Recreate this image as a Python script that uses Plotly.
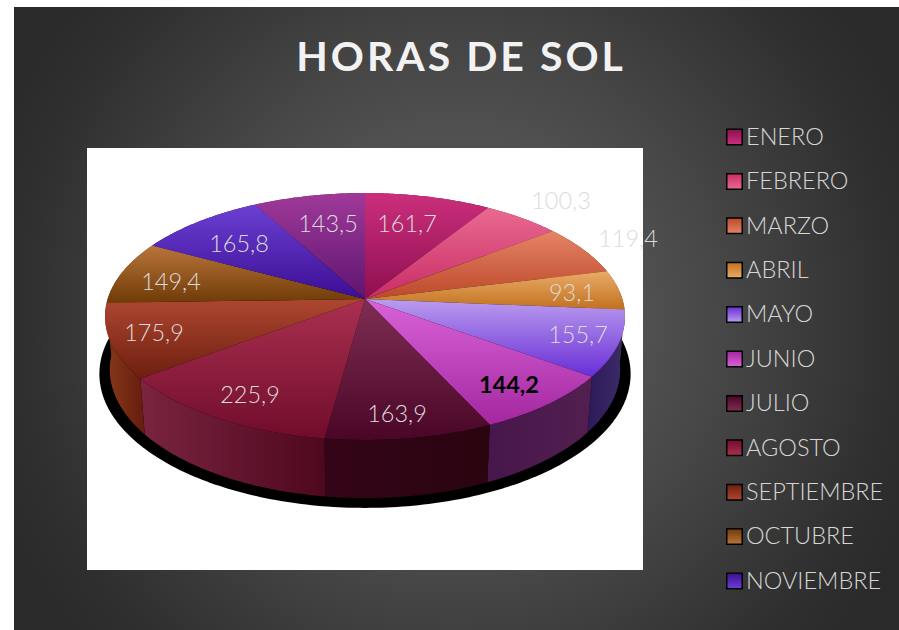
import numpy as np
import plotly.graph_objects as go

MONTHS = ["ENERO", "FEBRERO", "MARZO", "ABRIL", "MAYO", "JUNIO", "JULIO",
          "AGOSTO", "SEPTIEMBRE", "OCTUBRE", "NOVIEMBRE", "DICIEMBRE"]
HOURS = [161.7, 100.3, 119.4, 93.1, 155.7, 144.2, 163.9, 225.9, 175.9, 149.4, 165.8, 143.5]

# the legend of the original stops at NOVIEMBRE
LEGEND_MONTHS = MONTHS[:11]

TOP_LIGHT = ["#cb2f7c", "#e96a90", "#e58466", "#e9ab68", "#bb9cef", "#da63d9",
             "#7f2e53", "#aa3050", "#ae4631", "#b9753a", "#6b40d2", "#9f3999"]
TOP_DARK = ["#8e0e50", "#c92c66", "#bd482a", "#c2701e", "#682dd6", "#a3279f",
            "#4a0627", "#710c2b", "#6e1f0f", "#6f3b08", "#3c0e95", "#5e1570"]
SIDE_LEFT = ["#6e0b3e", "#8e1d4b", "#88331d", "#8a5015", "#2c1a58", "#47164a",
             "#340518", "#7a2440", "#8a3a1a", "#70380a", "#2f0b70", "#5a1258"]
SIDE_RIGHT = ["#5a0930", "#6e163a", "#6a2716", "#6a3d10", "#3c2c68", "#521f50",
              "#2a040f", "#4e081e", "#641c0e", "#5a2d08", "#250858", "#470e45"]

LABEL_COLORS = ["#dcdcdc"] * 12
LABEL_COLORS[5] = "#000000"
# label anchors in page pixels, same order as MONTHS
LABEL_X = [407, 561, 628, 572, 578, 509, 397, 250, 154, 171, 239, 328]
LABEL_Y = [226, 203, 241, 295, 337, 387, 416, 397, 335, 284, 246, 226]

W, H = 899, 630
PANEL_LEFT, PANEL_TOP = 14, 7
GLOW_X, GLOW_Y, GLOW_R = 456, 318, 500
APEX_X, APEX_Y = 365, 299
F_X, F_Y, DEPTH = 1817, 854, 7.06
BOTTOM_DEPTH, BOTTOM_DROP = 0.13, 378
FONT = "Lato"


def project(angle_deg, radius=1.0, bottom=False):
    """Angulo de pastel (0 arriba, sentido horario) a pixeles de pantalla."""
    t = np.radians(angle_deg)
    x3, z3 = radius * np.sin(t), radius * np.cos(t)
    d = DEPTH + z3 + (BOTTOM_DEPTH if bottom else 0)
    drop = BOTTOM_DROP if bottom else 0
    return APEX_X + F_X * x3 / d, APEX_Y + (drop - F_Y * z3) / d


def poly(fig, x, y, color=None, gradient=None):
    trace = dict(x=x, y=y, mode="none", fill="toself", hoverinfo="skip")
    if gradient:
        trace["fillgradient"] = gradient
    else:
        trace["fillcolor"] = color
    fig.add_trace(go.Scatter(**trace))


def ramp(kind, c0, c1):
    return dict(type=kind, colorscale=[[0, c0], [1, c1]])


edges = np.concatenate([[0], np.cumsum(HOURS)]) / sum(HOURS) * 360

fig = go.Figure()

# panel: square larger than the axes, so the glow is round and the axes clip it
poly(fig,
     [GLOW_X - GLOW_R, GLOW_X + GLOW_R, GLOW_X + GLOW_R, GLOW_X - GLOW_R],
     [GLOW_Y - GLOW_R, GLOW_Y - GLOW_R, GLOW_Y + GLOW_R, GLOW_Y + GLOW_R],
     gradient=dict(type="radial", colorscale=[[0, "#585858"], [0.38, "#505050"], [0.54, "#464646"],
                                              [0.7, "#3b3b3b"], [0.88, "#2f2f2f"], [1, "#2a2a2a"]]))
poly(fig, [87, 643, 643, 87], [148, 148, 570, 570], color="#ffffff")

# shadow under the pie
ang = np.linspace(0, 360, 361)
sx, sy = project(ang, 1.04, bottom=True)
poly(fig, sx, sy + 3, color="#000000")

# side wall
for i in range(12):
    a = np.linspace(edges[i], edges[i + 1], 60)
    x0, y0 = project(a)
    x1, y1 = project(a[::-1], bottom=True)
    poly(fig, np.r_[x0, x1], np.r_[y0, y1],
         gradient=ramp("horizontal", SIDE_LEFT[i], SIDE_RIGHT[i]))

# top face, the y axis runs downwards so the ramp starts with the dark colour
for i in range(12):
    a = np.linspace(edges[i], edges[i + 1], 60)
    x0, y0 = project(a)
    poly(fig, np.r_[APEX_X, x0], np.r_[APEX_Y, y0],
         gradient=ramp("vertical", TOP_DARK[i], TOP_LIGHT[i]))

labels = [f"{v:.1f}".replace(".", ",") for v in HOURS]
labels[5] = f"<b>{labels[5]}</b>"
fig.add_trace(go.Scatter(
    x=LABEL_X, y=LABEL_Y, text=labels, mode="text", hoverinfo="skip",
    textposition="middle center",
    textfont=dict(family=FONT, size=23.5, color=LABEL_COLORS, weight=300),
))

# legend
for i, name in enumerate(LEGEND_MONTHS):
    y_pos = 137 + i * 44.4
    fig.add_trace(go.Scatter(
        x=[734.5], y=[y_pos], mode="markers", hoverinfo="skip",
        marker=dict(symbol="square", size=15.5, color=TOP_DARK[i],
                    gradient=dict(type="vertical", color=TOP_LIGHT[i]),
                    line=dict(color="#000000", width=1.5)),
    ))
fig.add_trace(go.Scatter(
    x=[746] * len(LEGEND_MONTHS), y=[139 + i * 44.4 for i in range(len(LEGEND_MONTHS))],
    text=LEGEND_MONTHS, mode="text", textposition="middle right", hoverinfo="skip",
    textfont=dict(family=FONT, size=23.5, color="#d6d6d6", weight=300),
))

fig.update_layout(
    width=W, height=H, showlegend=False,
    paper_bgcolor="#ffffff", plot_bgcolor="#ffffff",
    margin=dict(t=0, l=0, r=0, b=0),
    xaxis=dict(range=[PANEL_LEFT, W], domain=[PANEL_LEFT / W, 1], visible=False, fixedrange=True),
    yaxis=dict(range=[H, PANEL_TOP], domain=[0, 1 - PANEL_TOP / H], visible=False, fixedrange=True),
    title=dict(text="HORAS DE SOL", x=461 / W, y=1 - 57 / H, xanchor="center", yanchor="middle",
               font=dict(family=FONT, size=41, color="#f2f2f2", weight=700)),
)

fig.write_html(
    "out.html",
    config=dict(displayModeBar=False),
    post_script="document.body.style.margin='0';"
                "document.querySelector('.gtitle').style.letterSpacing='3px';",
)
